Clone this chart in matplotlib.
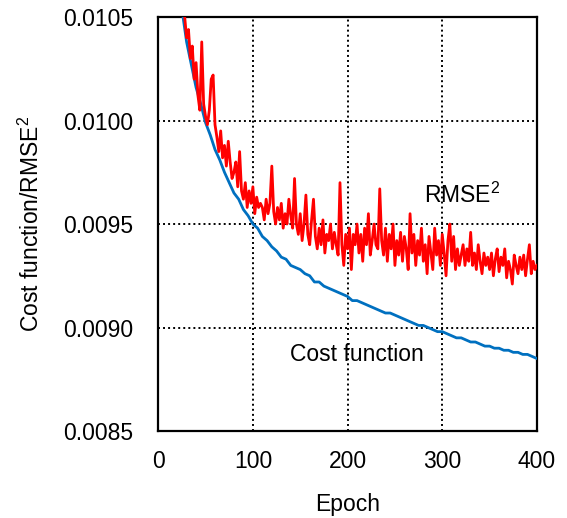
import numpy as np
import matplotlib
matplotlib.use("Agg")
import matplotlib.pyplot as plt

# ------------------ DATA ------------------

cost_epoch = list(range(20, 401, 5))
cost_value = [
    0.01072, 0.01054, 0.01038, 0.01027, 0.01016, 0.01008, 0.00999, 0.00993,
    0.00986, 0.00981, 0.00975, 0.00970, 0.00965, 0.00962, 0.00957, 0.00954,
    0.00950, 0.00948, 0.00944, 0.00942, 0.00939, 0.00937, 0.00934, 0.00933,
    0.00930, 0.00929, 0.00928, 0.00926, 0.00925, 0.00922, 0.00922, 0.00920,
    0.00919, 0.00918, 0.00917, 0.00916, 0.00915, 0.00913, 0.00913, 0.00912,
    0.00911, 0.00910, 0.00909, 0.00908, 0.00907, 0.00907, 0.00906, 0.00905,
    0.00904, 0.00903, 0.00902, 0.00901, 0.00901, 0.00900, 0.00899, 0.00898,
    0.00898, 0.00897, 0.00896, 0.00895, 0.00895, 0.00894, 0.00893, 0.00893,
    0.00892, 0.00891, 0.00891, 0.00890, 0.00890, 0.00889, 0.00889, 0.00888,
    0.00888, 0.00887, 0.00887, 0.00886, 0.00885,
]

rmse_epoch = list(range(20, 401, 2))
rmse_value = [
    0.01070, 0.01062, 0.01055, 0.01052, 0.01050,  # 20-28
    0.01040, 0.01044, 0.01030, 0.01036, 0.01020,  # 30-38
    0.01028, 0.01012, 0.01005, 0.01038, 0.01008,  # 40-48
    0.01002, 0.00998, 0.01005, 0.01020, 0.01022,  # 50-58
    0.00998, 0.00992, 0.00985, 0.00995, 0.00982,  # 60-68
    0.00988, 0.00978, 0.00990, 0.00980, 0.00972,  # 70-78
    0.00975, 0.00980, 0.00968, 0.00985, 0.00966,  # 80-88
    0.00962, 0.00970, 0.00958, 0.00966, 0.00960,  # 90-98
    0.00968, 0.00955, 0.00963, 0.00958, 0.00960,  # 100-108
    0.00958, 0.00952, 0.00962, 0.00955, 0.00960,  # 110-118
    0.00978, 0.00956, 0.00950, 0.00958, 0.00952,  # 120-128
    0.00960, 0.00948, 0.00955, 0.00950, 0.00962,  # 130-138
    0.00954, 0.00948, 0.00972, 0.00950, 0.00945,  # 140-148
    0.00955, 0.00942, 0.00950, 0.00964, 0.00945,  # 150-158
    0.00940, 0.00952, 0.00962, 0.00944, 0.00938,  # 160-168
    0.00948, 0.00940, 0.00952, 0.00936, 0.00945,  # 170-178
    0.00942, 0.00950, 0.00938, 0.00946, 0.00940,  # 180-188
    0.00935, 0.00970, 0.00940, 0.00930, 0.00945,  # 190-198
    0.00938, 0.00948, 0.00928, 0.00945, 0.00940,  # 200-208
    0.00950, 0.00936, 0.00945, 0.00932, 0.00948,  # 210-218
    0.00940, 0.00955, 0.00935, 0.00942, 0.00950,  # 220-228
    0.00940, 0.00938, 0.00967, 0.00942, 0.00935,  # 230-238
    0.00948, 0.00932, 0.00945, 0.00938, 0.00950,  # 240-248
    0.00930, 0.00942, 0.00935, 0.00946, 0.00932,  # 250-258
    0.00944, 0.00938, 0.00928, 0.00955, 0.00936,  # 260-268
    0.00945, 0.00930, 0.00942, 0.00935, 0.00948,  # 270-278
    0.00932, 0.00940, 0.00926, 0.00944, 0.00936,  # 280-288
    0.00928, 0.00948, 0.00935, 0.00942, 0.00930,  # 290-298
    0.00945, 0.00936, 0.00925, 0.00942, 0.00950,  # 300-308
    0.00932, 0.00944, 0.00928, 0.00938, 0.00930,  # 310-318
    0.00935, 0.00940, 0.00930, 0.00938, 0.00932,  # 320-328
    0.00946, 0.00930, 0.00936, 0.00928, 0.00940,  # 330-338
    0.00932, 0.00926, 0.00936, 0.00930, 0.00934,  # 340-348
    0.00928, 0.00936, 0.00925, 0.00933, 0.00938,  # 350-358
    0.00927, 0.00934, 0.00930, 0.00938, 0.00924,  # 360-368
    0.00932, 0.00928, 0.00921, 0.00935, 0.00930,  # 370-378
    0.00926, 0.00934, 0.00928, 0.00935, 0.00925,  # 380-388
    0.00933, 0.00940, 0.00926, 0.00932, 0.00928,  # 390-398
    0.00930,                                      # 400
]

x_ticks = [0, 100, 200, 300, 400]
y_ticks = [0.0085, 0.0090, 0.0095, 0.0100, 0.0105]

# ------------------ PLOT ------------------

plt.rcParams["font.family"] = ["Liberation Sans", "DejaVu Sans"]
plt.rcParams["mathtext.fontset"] = "custom"
plt.rcParams["mathtext.rm"] = "Liberation Sans"

fs = 16.5

fig = plt.figure(figsize=(5.67, 5.18), dpi=100)
ax = fig.add_axes([0.279, 0.168, 0.668, 0.799])

ax.plot(cost_epoch, cost_value, color="#0070C0", lw=2.0, zorder=3)
ax.plot(rmse_epoch, rmse_value, color="#FF0000", lw=2.0, zorder=4)

ax.set_xlim(0, 400)
ax.set_ylim(0.0085, 0.0105)
ax.set_xticks(x_ticks)
ax.set_yticks(y_ticks)
ax.set_yticklabels(["{:.4f}".format(v) for v in y_ticks])
ax.tick_params(length=0, labelsize=fs)
ax.tick_params(axis="x", pad=14)
ax.tick_params(axis="y", pad=18)

ax.grid(True, color="black", linestyle=(0, (1, 1.6)), lw=1.4)
for s in ax.spines.values():
    s.set_linewidth(1.6)
    s.set_color("black")

ax.set_xlabel("Epoch", fontsize=fs, labelpad=14)
ax.set_ylabel("Cost function/RMSE$^2$", fontsize=fs, labelpad=14)

ax.text(321, 0.00964, "RMSE$^2$", fontsize=fs, ha="center", va="center")
ax.text(210, 0.00887, "Cost function", fontsize=fs, ha="center", va="center")

fig.savefig("out.png", dpi=100)
